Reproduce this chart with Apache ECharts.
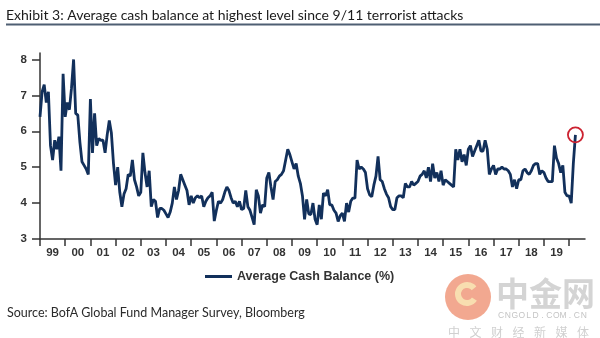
<!DOCTYPE html>
<html><head><meta charset="utf-8">
<script src="https://cdn.jsdelivr.net/npm/echarts@6/dist/echarts.min.js"></script>
<style>html,body{margin:0;padding:0;background:#fff}#c{width:600px;height:338px}</style>
</head><body><div id="c"></div>
<script>
// ---- data (monthly, Jan 1999 .. Apr 2020) ----
const startYear = 1999;
const cash1999_2005 = [
  6.4, 7.1, 7.3, 6.8, 7.1, 5.6, 5.2, 5.75, 5.5, 5.85, 4.9, 7.6,
  6.4, 6.8, 6.6, 7.2, 8.0, 6.5, 6.45, 5.7, 5.15, 5.05, 4.95, 4.8,
  6.9, 5.4, 6.5, 5.6, 5.8, 5.75, 5.75, 5.4, 5.9, 6.3, 5.95, 5.1,
  4.5, 5.0, 4.3, 3.9, 4.25, 4.4, 4.8, 4.75, 5.2, 4.65, 4.45, 4.2,
  4.3, 5.4, 4.85, 4.45, 4.9, 3.9, 4.1, 4.05, 3.6, 3.85, 3.85, 3.8,
  3.7, 3.6, 3.75, 4.0, 4.45, 4.1, 4.35, 4.8, 4.65, 4.5, 4.35, 3.95,
  4.2, 4.0, 4.15, 4.2, 4.15, 4.2, 3.9, 4.05, 4.15, 4.2, 4.3, 3.5
];
const cash2006_2012 = [
  3.8, 4.05, 4.0, 4.1, 4.3, 4.45, 4.35, 4.15, 4.0, 4.05, 3.9, 4.05,
  3.82, 3.85, 4.35, 3.9, 3.8, 3.6, 3.4, 4.37, 4.2, 3.72, 3.95, 3.9,
  4.7, 4.85, 4.45, 4.1, 4.6, 4.65, 4.75, 4.8, 4.9, 5.2, 5.5, 5.35,
  5.15, 4.95, 5.1, 4.75, 4.55, 4.2, 3.55, 4.1, 3.7, 3.68, 4.0, 3.55,
  3.4, 3.95, 3.55, 4.28, 4.2, 4.37, 3.95, 3.95, 3.8, 3.72, 3.49, 3.65,
  3.72, 3.49, 4.0, 3.75, 4.05, 4.14, 4.14, 5.2, 4.95, 5.0, 4.95, 4.85,
  4.4, 4.23, 4.18, 4.5, 4.75, 5.3, 4.65, 4.6, 4.4, 4.25, 4.15, 3.9
];
const cash2013_2020 = [
  3.82, 3.82, 4.15, 4.2, 4.2, 4.15, 4.55, 4.45, 4.45, 4.6, 4.5, 4.55,
  4.6, 4.75, 4.8, 4.9, 4.7, 5.0, 4.6, 5.1, 4.7, 4.85, 4.6, 4.9,
  4.5, 4.65, 4.6, 4.55, 4.5, 4.45, 5.5, 5.2, 5.5, 5.15, 5.35, 5.05,
  5.5, 5.6, 5.3, 5.45, 5.6, 5.75, 5.45, 5.45, 5.75, 5.5, 4.8, 4.95,
  5.05, 4.8, 4.95, 4.95, 5.0, 4.95, 4.95, 4.9, 4.8, 4.45, 4.65, 4.4,
  4.65, 4.65, 4.9, 4.95, 4.85, 4.8, 4.9, 5.05, 5.1, 5.1, 4.8, 4.9,
  4.85, 4.7, 4.6, 4.6, 4.6, 5.6, 5.25, 5.1, 4.85, 5.05, 4.3, 4.2,
  4.2, 4.0, 5.1, 5.9
];
const yearLabels = ['99','00','01','02','03','04','05','06','07','08','09','10','11','12','13','14','15','16','17','18','19'];
const yTicks = [3, 4, 5, 6, 7, 8];
const seriesName = 'Average Cash Balance (%)';
const titleText = 'Exhibit 3: Average cash balance at highest level since 9/11 terrorist attacks';
const sourceText = 'Source: BofA Global Fund Manager Survey, Bloomberg';

// ---- build ----
const cash = cash1999_2005.concat(cash2006_2012, cash2013_2020);
const points = cash.map((v, i) => [startYear + i / 12, v]);
const last = points[points.length - 1];
const tickYears = yearLabels.map((_, i) => startYear + i).concat([startYear + yearLabels.length]);
const labelYears = yearLabels.map((_, i) => startYear + i + 0.5);

const axisColor = '#333';
const labelFont = {fontFamily: '"Liberation Sans", Arial, sans-serif', fontWeight: 'bold', fontSize: 11.5, color: '#333'};

// watermark
const wmChars = '中文财经新媒体'.split('');
const wmLatin = 'CNGOLD.COM.CN'.split('');
const wmGraphics = [
  {type: 'circle', shape: {cx: 468, cy: 297, r: 23}, style: {fill: '#ef9274', opacity: 0.8}, silent: true},
  {type: 'arc', shape: {cx: 467, cy: 294, r: 9, startAngle: 0.6, endAngle: 5.6}, style: {stroke: '#f8deb0', lineWidth: 6, fill: null}, silent: true},
  {type: 'text', style: {x: 496, y: 293, text: '中金网', font: 'bold 33px "Noto Sans CJK SC"', fill: '#d4d4d4', verticalAlign: 'middle'}, silent: true}
].concat(wmLatin.map((ch, i) => ({
  type: 'text', style: {x: 501 + i * 6.9, y: 316, text: ch, font: '8.5px "Liberation Sans", Arial', fill: '#c4c4c4', align: 'center', verticalAlign: 'middle'}, silent: true
}))).concat(wmChars.map((ch, i) => ({
  type: 'text', style: {x: 448 + i * 21.5, y: 332, text: ch, font: '12px "Noto Sans CJK SC"', fill: '#d0d0d0', verticalAlign: 'middle'}, silent: true
})));

const chart = echarts.init(document.getElementById('c'), null, {renderer: 'canvas'});
chart.setOption({
  animation: false,
  backgroundColor: '#fff',
  title: [
    {text: titleText, left: 6, top: 8, padding: 0, textStyle: {fontFamily: 'Lato, "Open Sans", sans-serif', fontSize: 14, fontWeight: 'normal', color: '#1b1b1b'}},
    {text: sourceText, left: 7, top: 306, padding: 0, textStyle: {fontFamily: 'Lato, "Open Sans", sans-serif', fontSize: 12.5, fontWeight: 'normal', color: '#2b2b2b'}}
  ],
  graphic: [
    {type: 'line', shape: {x1: 6, y1: 24.5, x2: 600, y2: 24.5}, style: {stroke: '#4f5f73', lineWidth: 2}, silent: true}
  ].concat(wmGraphics),
  legend: {
    data: [seriesName], left: 205, top: 270, padding: 0, icon: 'rect', itemWidth: 27, itemHeight: 3, itemGap: 5,
    textStyle: {fontFamily: '"Liberation Sans", Arial, sans-serif', fontWeight: 'bold', fontSize: 12.5, color: '#333'}
  },
  grid: {left: 40, right: 15, top: 53, bottom: 99, containLabel: false},
  xAxis: {
    type: 'value', min: startYear, max: 2020.63,
    axisLine: {show: true, onZero: false, lineStyle: {color: axisColor, width: 1.5}},
    axisTick: {show: true, inside: false, length: 7, customValues: tickYears, lineStyle: {color: axisColor, width: 1.5}},
    axisLabel: Object.assign({show: true, margin: 8, customValues: labelYears,
      formatter: v => yearLabels[Math.round(v - startYear - 0.5)] || ''}, labelFont),
    splitLine: {show: false}
  },
  yAxis: {
    type: 'value', min: 3, max: 8.18,
    axisLine: {show: true, lineStyle: {color: axisColor, width: 1.5}},
    axisTick: {show: true, inside: false, length: 8, customValues: yTicks, lineStyle: {color: axisColor, width: 1.5}},
    axisLabel: Object.assign({show: true, margin: 13, customValues: yTicks}, labelFont),
    splitLine: {show: false}
  },
  series: [{
    name: seriesName, type: 'line', data: points, showSymbol: false, symbol: 'none',
    lineStyle: {color: '#12305b', width: 2.8}, itemStyle: {color: '#12305b'},
    markPoint: {
      silent: true, symbol: 'circle', symbolSize: 15,
      itemStyle: {color: 'rgba(0,0,0,0)', borderColor: '#cc2230', borderWidth: 1.8},
      label: {show: false},
      data: [{coord: last}]
    }
  }]
});
</script>
</body></html>
